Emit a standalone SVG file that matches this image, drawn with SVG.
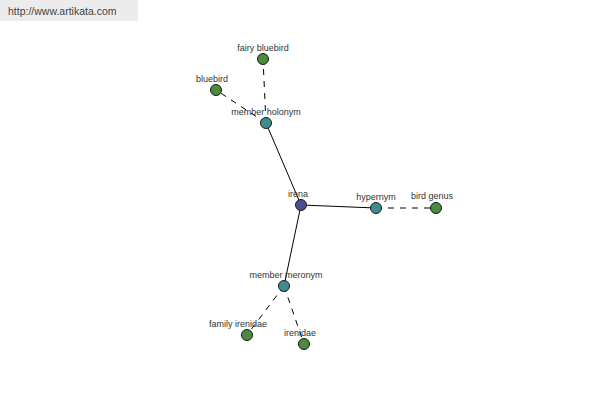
<svg xmlns="http://www.w3.org/2000/svg" width="600" height="400" viewBox="0 0 600 400">
<style>
.lbl{font-family:"Liberation Sans",Arial,sans-serif;font-size:9px;fill:#333;text-anchor:middle}
.e{stroke:#000;stroke-width:1;fill:none}
.d{stroke:#000;stroke-width:1;fill:none;stroke-dasharray:6,6}
.n{stroke:#1a1a1a;stroke-width:1}
.c{fill:#4a4e96}
.t{fill:#3f8d8e}
.g{fill:#4c8a3e}
</style>
<rect x="0" y="0" width="138" height="21" fill="#ececec"/>
<text x="8" y="15" style="font-family:'Liberation Sans',Arial,sans-serif;font-size:10.5px;fill:#444">http://www.artikata.com</text>
<g id="connectors">
<line class="e" x1="301" y1="205" x2="266" y2="123"/>
<line class="e" x1="301" y1="205" x2="376" y2="208"/>
<line class="e" x1="301" y1="205" x2="284" y2="286"/>
<line class="d" x1="266" y1="123" x2="263" y2="59"/>
<line class="d" x1="266" y1="123" x2="216" y2="90"/>
<line class="d" x1="376" y1="208" x2="436" y2="208"/>
<line class="d" x1="284" y1="286" x2="247" y2="335"/>
<line class="d" x1="284" y1="286" x2="304" y2="344"/>
</g>
<g id="irena"><circle class="n c" cx="301" cy="205" r="5.5"/><text class="lbl" x="298" y="197">irena</text></g>
<g id="member-holonym"><circle class="n t" cx="266" cy="123" r="5.5"/><text class="lbl" x="266" y="115">member holonym</text></g>
<g id="fairy-bluebird"><circle class="n g" cx="263" cy="59" r="5.5"/><text class="lbl" x="263" y="51">fairy bluebird</text></g>
<g id="bluebird"><circle class="n g" cx="216" cy="90" r="5.5"/><text class="lbl" x="212" y="82">bluebird</text></g>
<g id="hypernym"><circle class="n t" cx="376" cy="208" r="5.5"/><text class="lbl" x="376" y="200">hypernym</text></g>
<g id="bird-genus"><circle class="n g" cx="436" cy="208" r="5.5"/><text class="lbl" x="432" y="199">bird genus</text></g>
<g id="member-meronym"><circle class="n t" cx="284" cy="286" r="5.5"/><text class="lbl" x="286" y="278">member meronym</text></g>
<g id="family-irenidae"><circle class="n g" cx="247" cy="335" r="5.5"/><text class="lbl" x="238" y="327">family irenidae</text></g>
<g id="irenidae"><circle class="n g" cx="304" cy="344" r="5.5"/><text class="lbl" x="300" y="336">irenidae</text></g>
</svg>
